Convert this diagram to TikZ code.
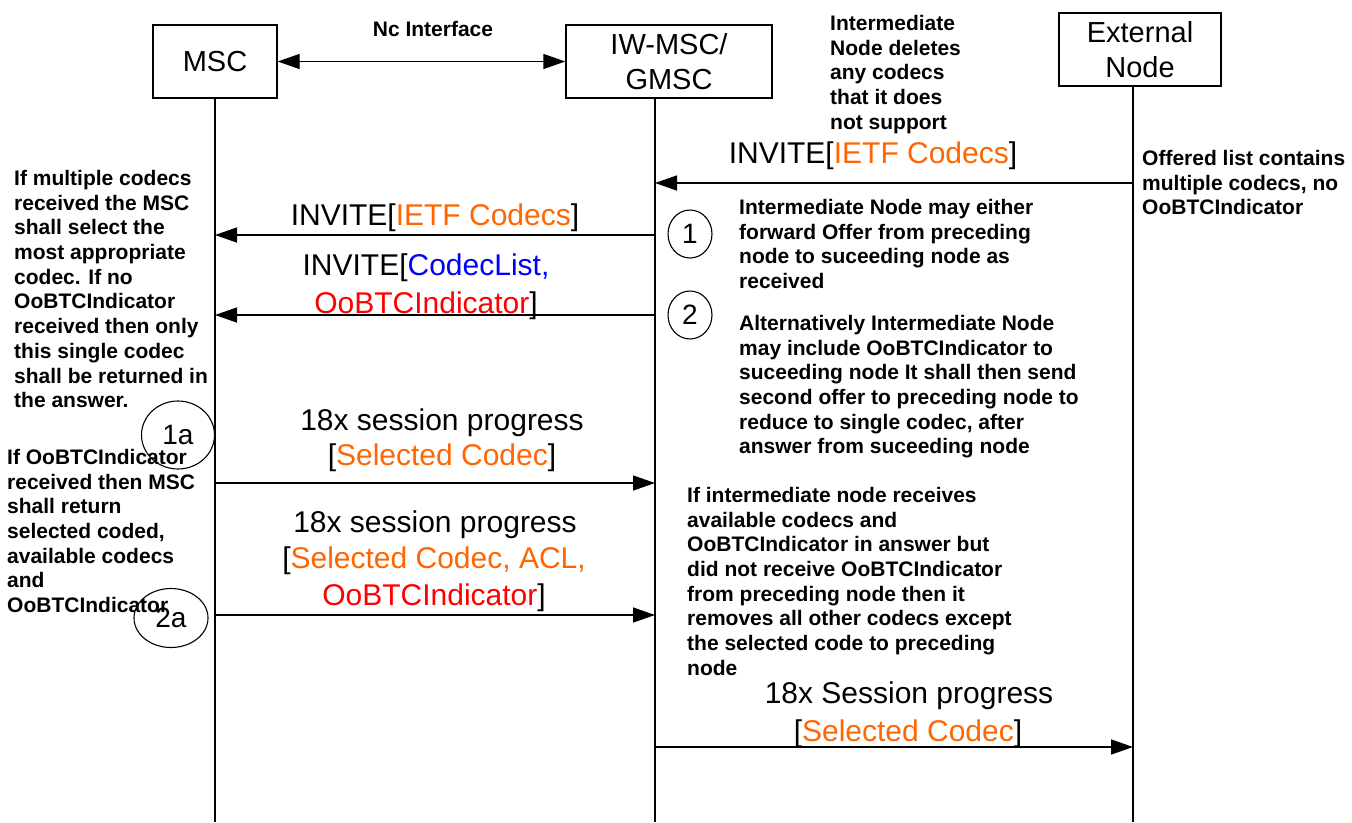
\documentclass[tikz,border=0pt]{standalone}
\usepackage{fontspec}
\setmainfont{Liberation Sans}
\usetikzlibrary{arrows.meta,shapes.geometric}
\definecolor{codec}{HTML}{FF6600}
\definecolor{clist}{HTML}{0000FF}
\definecolor{ind}{HTML}{FF0000}
\tikzset{
  box/.style={draw, line width=1.4pt, inner sep=0pt, align=center, font=\fontsize{29}{35}\selectfont},
  note/.style={align=left, anchor=north west, inner sep=0pt, font=\fontsize{21}{24.7}\selectfont\bfseries},
  lbl/.style={anchor=base, inner sep=0pt, font=\fontsize{30}{36}\selectfont},
  life/.style={line width=1.4pt},
  msg/.style={line width=1.4pt, -{Triangle[length=22pt,width=15pt]}},
  num/.style={draw, ellipse, line width=1.1pt, inner sep=0pt, font=\fontsize{28}{34}\selectfont}
}
\begin{document}
\begin{tikzpicture}[x=1pt,y=-1pt]
\useasboundingbox[fill=white] (0,0) rectangle (1352,822);
% boxes
\node[box, minimum width=124, minimum height=73] (msc) at (215,61.5) {MSC};
\node[box, minimum width=206, minimum height=73] (iw) at (669,61.5) {IW-MSC/\\GMSC};
\node[box, minimum width=162, minimum height=73] (ext) at (1140,49.5) {External\\Node};
% lifelines
\coordinate (mscB) at (215,822);
\coordinate (iwB) at (655,822);
\coordinate (extB) at (1133,822);
\draw[life] (msc.south) -- (mscB);
\draw[life] (iwB |- iw.south) -- (iwB);
\draw[life] (extB |- ext.south) -- (extB);
% Nc interface
\draw[line width=1.4pt, {Triangle[length=22pt,width=15pt]}-{Triangle[length=22pt,width=15pt]}] (msc.east) -- (iw.west);
\node[font=\fontsize{21}{25}\selectfont\bfseries] (nc) at (433,29) {Nc Interface};
% message end points
\coordinate (a1) at (1133,183); \coordinate (b1) at (655,183);
\coordinate (a2) at (655,235);  \coordinate (b2) at (215,235);
\coordinate (a3) at (655,315);  \coordinate (b3) at (215,315);
\coordinate (a4) at (215,483);  \coordinate (b4) at (655,483);
\coordinate (a5) at (215,615);  \coordinate (b5) at (655,615);
\coordinate (a6) at (655,747);  \coordinate (b6) at (1133,747);
% labels
\node[lbl] (t1) at (873,163) {INVITE[\textcolor{codec}{IETF Codecs}]};
\node[lbl] (t2) at (435,225) {INVITE[\textcolor{codec}{IETF Codecs}]};
\node[lbl] (t3a) at (426,275) {INVITE[\textcolor{clist}{CodecList,}};
\node[lbl] (t3b) at (426,313) {\textcolor{ind}{OoBTCIndicator}]};
\node[lbl] (t4a) at (442,430) {18x session progress};
\node[lbl] (t4b) at (442,465) {[\textcolor{codec}{Selected Codec}]};
\node[lbl] (t5a) at (435,532) {18x session progress};
\node[lbl] (t5b) at (434,568) {[\textcolor{codec}{Selected Codec, ACL,}};
\node[lbl] (t5c) at (434,605) {\textcolor{ind}{OoBTCIndicator}]};
\node[lbl] (t6a) at (909,703) {18x Session progress};
\node[lbl] (t6b) at (908,741) {[\textcolor{codec}{Selected Codec}]};
% arrows
\draw[msg] (a1) -- (b1);
\draw[msg] (a2) -- (b2);
\draw[msg] (a3) -- (b3);
\draw[msg] (a4) -- (b4);
\draw[msg] (a5) -- (b5);
\draw[msg] (a6) -- (b6);
% notes
\node[note] (n0) at (830,15) {Intermediate\\Node deletes\\any codecs\\that it does\\not support};
\node[note] (n1) at (1142,150) {Offered list contains\\multiple codecs, no\\OoBTCIndicator};
\node[note] (n2) at (739,199) {Intermediate Node may either\\forward Offer from preceding\\node to suceeding node as\\received};
\node[note] (n3) at (739,315) {Alternatively Intermediate Node\\may include OoBTCIndicator to\\suceeding node It shall then send\\second offer to preceding node to\\reduce to single codec, after\\answer from suceeding node};
\node[note] (n4) at (687,487) {If intermediate node receives\\available codecs and\\OoBTCIndicator in answer but\\did not receive OoBTCIndicator\\from preceding node then it\\removes all other codecs except\\the selected code to preceding\\node};
\node[note] (n5) at (14,170) {If multiple codecs\\received the MSC\\shall select the\\most appropriate\\codec. If no\\OoBTCIndicator\\received then only\\this single codec\\shall be returned in\\the answer.};
\node[note] (n6) at (7,449) {If OoBTCIndicator\\received then MSC\\shall return\\selected coded,\\available codecs\\and\\OoBTCIndicator};
% numbered circles
\node[num, minimum width=44, minimum height=48] (c1) at (690,234) {1};
\node[num, minimum width=44, minimum height=48] (c2) at (690,315) {2};
\node[num, minimum width=73, minimum height=68] (c1a) at (178,435) {1a};
\node[num, minimum width=74, minimum height=59] (c2a) at (171,618) {2a};
\end{tikzpicture}
\end{document}
